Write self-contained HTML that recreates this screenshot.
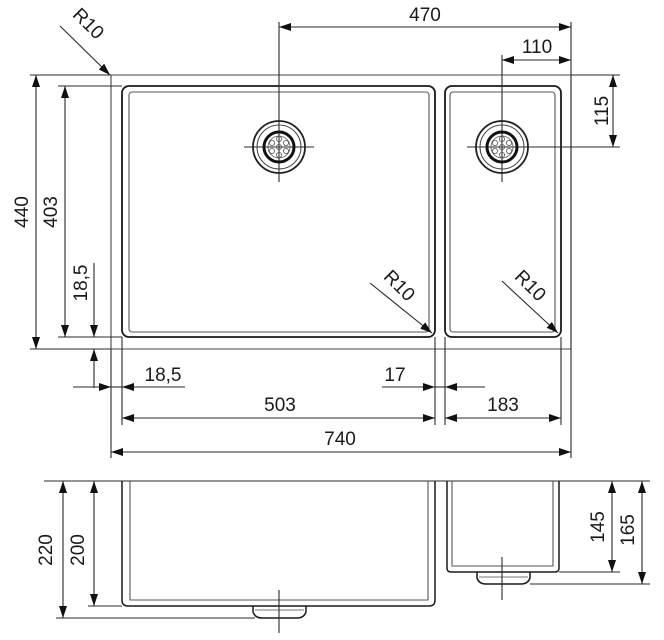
<!DOCTYPE html>
<html><head><meta charset="utf-8"><style>
html,body{margin:0;padding:0;background:#fff;}
svg{display:block;}
text{font-family:"Liberation Sans",Arial,sans-serif;font-size:19px;fill:#1a1a1a;}
</style></head><body>
<svg width="664" height="640" viewBox="0 0 664 640" xmlns="http://www.w3.org/2000/svg">
<defs>
<marker id="a" viewBox="0 0 12 8" refX="12" refY="4" markerWidth="12" markerHeight="8" markerUnits="userSpaceOnUse" orient="auto-start-reverse">
<path d="M0,0 L12,4 L0,8 Z" fill="#111"/></marker>
<g id="drain">
<circle r="26" fill="none" stroke="#222" stroke-width="1.8"/>
<circle r="22" fill="none" stroke="#444" stroke-width="1"/>
<circle r="15" fill="none" stroke="#111" stroke-width="3"/>
<circle r="11" fill="none" stroke="#555" stroke-width="0.8"/>
<g fill="none" stroke="#555" stroke-width="0.8">
<circle cx="0" cy="-8" r="2.6"/><circle cx="0" cy="8" r="2.6"/>
<circle cx="-7" cy="-4" r="2.6"/><circle cx="7" cy="-4" r="2.6"/>
<circle cx="-7" cy="4" r="2.6"/><circle cx="7" cy="4" r="2.6"/>
<circle r="2.6"/></g>
</g>
</defs>
<g stroke="#2a2a2a" stroke-width="1.1" fill="none">
<path d="M111,75 H571 V349 H111 Z" stroke="#444"/>
<rect x="122" y="86" width="313" height="251" rx="7" stroke="#1a1a1a" stroke-width="1.8"/>
<rect x="129" y="92" width="300" height="240" rx="3" stroke="#555"/>
<rect x="445" y="86" width="116" height="251" rx="7" stroke="#1a1a1a" stroke-width="1.8"/>
<rect x="450" y="92" width="105" height="240" rx="3" stroke="#555"/>
<line x1="244" y1="147" x2="314" y2="147"/>
<line x1="279" y1="22" x2="279" y2="182"/>
<line x1="467" y1="147" x2="620" y2="147"/>
<line x1="502" y1="55" x2="502" y2="182"/>
<line x1="571" y1="22" x2="571" y2="458"/>
<line x1="571" y1="75" x2="620" y2="75"/>
<line x1="30" y1="75" x2="111" y2="75"/>
<line x1="30" y1="349" x2="111" y2="349"/>
<line x1="58" y1="86" x2="122" y2="86"/>
<line x1="58" y1="337" x2="122" y2="337"/>
<line x1="111" y1="349" x2="111" y2="458"/>
<line x1="122" y1="337" x2="122" y2="425"/>
<line x1="435" y1="337" x2="435" y2="425"/>
<line x1="445" y1="337" x2="445" y2="425"/>
<line x1="561" y1="337" x2="561" y2="425"/>
<line x1="279" y1="27" x2="571" y2="27" marker-end="url(#a)" marker-start="url(#a)"/>
<line x1="502" y1="60" x2="571" y2="60" marker-end="url(#a)" marker-start="url(#a)"/>
<line x1="613" y1="75" x2="613" y2="147" marker-end="url(#a)" marker-start="url(#a)"/>
<line x1="36" y1="75" x2="36" y2="349" marker-end="url(#a)" marker-start="url(#a)"/>
<line x1="65" y1="86" x2="65" y2="337" marker-end="url(#a)" marker-start="url(#a)"/>
<line x1="94" y1="263" x2="94" y2="337" marker-end="url(#a)"/>
<line x1="94" y1="388" x2="94" y2="349" marker-end="url(#a)"/>
<line x1="73" y1="387" x2="111" y2="387" marker-end="url(#a)"/>
<line x1="185" y1="387" x2="122" y2="387" marker-end="url(#a)"/>
<line x1="111" y1="387" x2="122" y2="387"/>
<line x1="382" y1="387" x2="435" y2="387" marker-end="url(#a)"/>
<line x1="485" y1="387" x2="445" y2="387" marker-end="url(#a)"/>
<line x1="435" y1="387" x2="445" y2="387"/>
<line x1="122" y1="418" x2="435" y2="418" marker-end="url(#a)" marker-start="url(#a)"/>
<line x1="445" y1="418" x2="561" y2="418" marker-end="url(#a)" marker-start="url(#a)"/>
<line x1="111" y1="452" x2="571" y2="452" marker-end="url(#a)" marker-start="url(#a)"/>
<line x1="60" y1="26" x2="110" y2="75" marker-end="url(#a)"/>
<line x1="370" y1="283" x2="432" y2="333" marker-end="url(#a)"/>
<line x1="502" y1="281" x2="558" y2="333" marker-end="url(#a)"/>

<line x1="44" y1="481" x2="650" y2="481"/>
<path d="M122,481 V600 Q122,606 128,606 H429 Q435,606 435,600 V481" stroke="#1a1a1a" stroke-width="1.5"/>
<path d="M130,481 V600 H428 V481" stroke="#555"/>
<path d="M447,481 V568 Q447,572 451,572 H555 Q559,572 559,568 V481" stroke="#1a1a1a" stroke-width="1.5"/>
<path d="M452,481 V566 H553 V481" stroke="#555"/>
<path d="M253,606 V612 Q255,618 262,618 H297 Q304,618 306,612 V606" stroke="#1a1a1a" stroke-width="1.5"/>
<line x1="255" y1="610" x2="304" y2="610" stroke="#777"/>
<path d="M477,572 V578 Q479,584 486,584 H521 Q528,584 530,578 V572" stroke="#1a1a1a" stroke-width="1.5"/>
<line x1="479" y1="577" x2="528" y2="577" stroke="#777"/>
<line x1="279" y1="590" x2="279" y2="633"/>
<line x1="502" y1="557" x2="502" y2="600"/>
<line x1="88" y1="606" x2="122" y2="606"/>
<line x1="56" y1="618" x2="255" y2="618"/>
<line x1="559" y1="572" x2="620" y2="572"/>
<line x1="530" y1="584" x2="650" y2="584"/>
<line x1="63" y1="481" x2="63" y2="618" marker-end="url(#a)" marker-start="url(#a)"/>
<line x1="94" y1="481" x2="94" y2="606" marker-end="url(#a)" marker-start="url(#a)"/>
<line x1="612" y1="481" x2="612" y2="572" marker-end="url(#a)" marker-start="url(#a)"/>
<line x1="642" y1="481" x2="642" y2="584" marker-end="url(#a)" marker-start="url(#a)"/>
</g>
<use href="#drain" x="279" y="147"/>
<use href="#drain" x="502" y="147"/>
<text x="425" y="21" text-anchor="middle">470</text>
<text x="537" y="53" text-anchor="middle">110</text>
<text x="280" y="411" text-anchor="middle">503</text>
<text x="503" y="411" text-anchor="middle">183</text>
<text x="340" y="445" text-anchor="middle">740</text>
<text x="163" y="381" text-anchor="middle">18,5</text>
<text x="395" y="381" text-anchor="middle">17</text>
<text transform="translate(608,111) rotate(-90)" text-anchor="middle">115</text>
<text transform="translate(28,212) rotate(-90)" text-anchor="middle">440</text>
<text transform="translate(57,212) rotate(-90)" text-anchor="middle">403</text>
<text transform="translate(87,283) rotate(-90)" text-anchor="middle">18,5</text>
<text transform="translate(52,550) rotate(-90)" text-anchor="middle">220</text>
<text transform="translate(84,550) rotate(-90)" text-anchor="middle">200</text>
<text transform="translate(604,527) rotate(-90)" text-anchor="middle">145</text>
<text transform="translate(634,530) rotate(-90)" text-anchor="middle">165</text>
<text transform="translate(84,28) rotate(45)" text-anchor="middle">R10</text>
<text transform="translate(395,290) rotate(45)" text-anchor="middle">R10</text>
<text transform="translate(526,290) rotate(45)" text-anchor="middle">R10</text>
</svg>
</body></html>
